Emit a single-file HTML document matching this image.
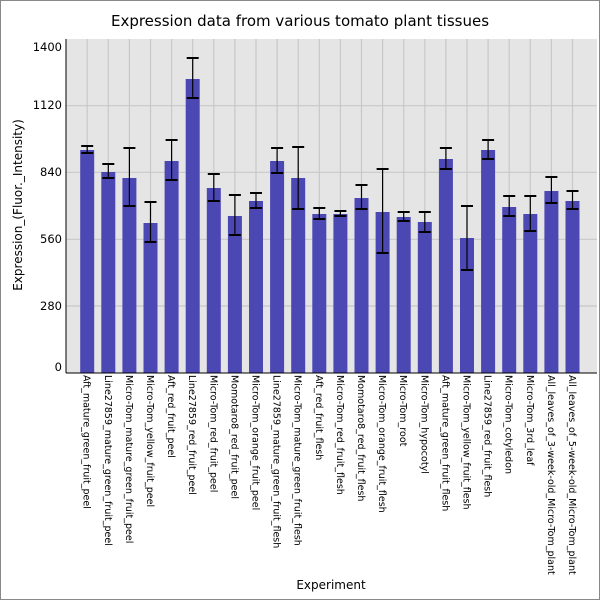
<!DOCTYPE html>
<html><head><style>body{margin:0;background:#fff}</style></head><body>
<svg width="600" height="600" xmlns="http://www.w3.org/2000/svg" font-family="DejaVu Sans, Liberation Sans, sans-serif">
<rect x="0.5" y="0.5" width="599" height="599" fill="#fff" stroke="#888"/>
<text x="300" y="26" text-anchor="middle" font-size="15">Expression data from various tomato plant tissues</text>
<rect x="66" y="39" width="531" height="334" fill="#e5e5e5"/>
<g stroke="#c8c8c8" stroke-width="1.2" id="g"></g>
<g id="bars"></g>
<line x1="66" y1="39" x2="66" y2="373" stroke="#000"/>
<line x1="66" y1="373" x2="597" y2="373" stroke="#000"/>
<g font-size="11.5" text-anchor="end">
<text x="62" y="51">1400</text><text x="62" y="109">1120</text><text x="62" y="176">840</text>
<text x="62" y="243">560</text><text x="62" y="310">280</text><text x="62" y="371">0</text>
</g>
<text transform="translate(22,205) rotate(-90)" text-anchor="middle" font-size="12">Expression_(Fluor._Intensity)</text>
<text x="331" y="589" text-anchor="middle" font-size="12">Experiment</text>
<g id="lab" font-size="9.5"></g>
</svg>
<script>
var tops=[150,172,178,223,161,79,188,216,201,161,178,214,214,198,212,217,222,159,238,150,207,214,191,201];
var eh=[[146,153],[164,178],[148,206],[202,242],[140,180],[58,98],[174,201],[195,235],[193,208],[148,173],[147,209],[208,219],[211,216],[185,209],[169,253],[212,221],[212,232],[148,169],[206,270],[140,159],[196,216],[196,231],[177,203],[191,209]];
var names=["Aft_mature_green_fruit_peel","Line27859_mature_green_fruit_peel","Micro-Tom_mature_green_fruit_peel","Micro-Tom_yellow_fruit_peel","Aft_red_fruit_peel","Line27859_red_fruit_peel","Micro-Tom_red_fruit_peel","Momotaro8_red_fruit_peel","Micro-Tom_orange_fruit_peel","Line27859_mature_green_fruit_flesh","Micro-Tom_mature_green_fruit_flesh","Aft_red_fruit_flesh","Micro-Tom_red_fruit_flesh","Momotaro8_red_fruit_flesh","Micro-Tom_orange_fruit_flesh","Micro-Tom_root","Micro-Tom_hypocotyl","Aft_mature_green_fruit_flesh","Micro-Tom_yellow_fruit_flesh","Line27859_red_fruit_flesh","Micro-Tom_cotyledon","Micro-Tom_3rd_leaf","All_leaves_of_3-week-old_Micro-Tom_plant","All_leaves_of_5-week-old_Micro-Tom_plant"];
var ns="http://www.w3.org/2000/svg",g=document.getElementById("g"),b=document.getElementById("bars"),l=document.getElementById("lab");
function el(p,t,a,txt){var e=document.createElementNS(ns,t);for(var k in a)e.setAttribute(k,a[k]);if(txt)e.textContent=txt;p.appendChild(e);return e;}
[105.7,172.3,239.3,306].forEach(function(y){el(g,"line",{x1:66,x2:597,y1:y,y2:y});});
for(var i=0;i<24;i++){var cx=87.2+i*21.1;
el(g,"line",{x1:cx,x2:cx,y1:39,y2:373});
el(b,"rect",{x:cx-7,y:tops[i],width:14,height:373-tops[i],fill:"#4b47b3"});
el(b,"line",{x1:cx,x2:cx,y1:eh[i][0],y2:eh[i][1],stroke:"#000","stroke-width":1.2});
el(b,"line",{x1:cx-6,x2:cx+6,y1:eh[i][0],y2:eh[i][0],stroke:"#000","stroke-width":2});
el(b,"line",{x1:cx-6,x2:cx+6,y1:eh[i][1],y2:eh[i][1],stroke:"#000","stroke-width":2});
el(l,"text",{transform:"translate("+(cx-3.5)+",375) rotate(90)"},names[i]);}
</script>
</body></html>
